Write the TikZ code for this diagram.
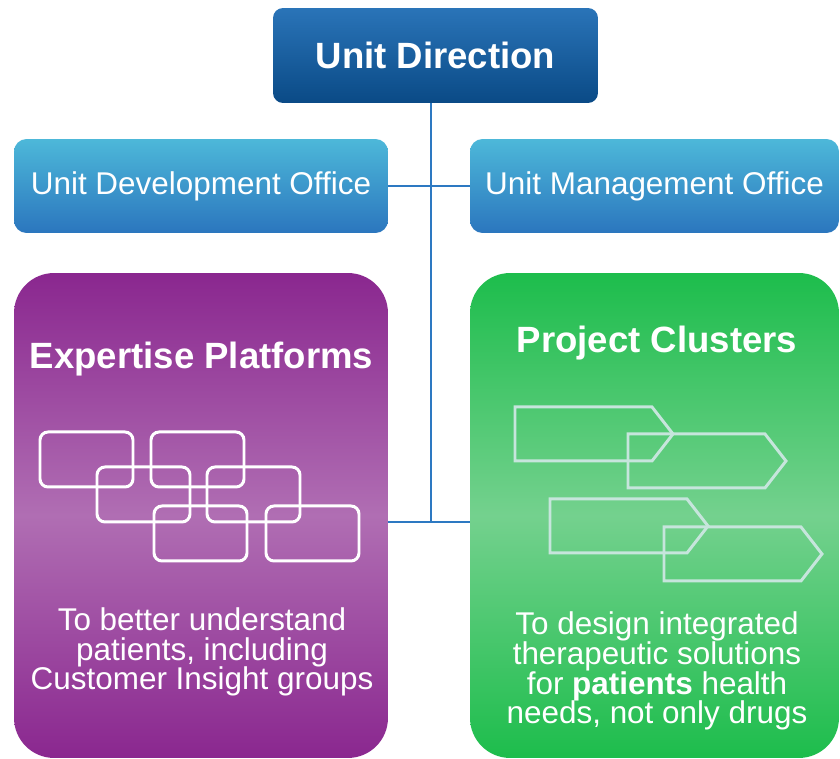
\documentclass[tikz,border=0pt]{standalone}
\usepackage{fontspec}
\setmainfont{Liberation Sans}
\usetikzlibrary{positioning, calc}

\definecolor{dirtop}{HTML}{2A74B8}
\definecolor{dirbot}{HTML}{0A4A86}
\definecolor{offtop}{HTML}{4DB8D9}
\definecolor{offbot}{HTML}{2B76BE}
\definecolor{purpedge}{HTML}{8A278F}
\definecolor{purpmid}{HTML}{B06EB3}
\definecolor{greenedge}{HTML}{1DBD4C}
\definecolor{greenmid}{HTML}{74D18E}
\definecolor{linkblue}{HTML}{2D79C2}
\definecolor{tagline}{HTML}{C6E5DC}

\begin{document}
\begin{tikzpicture}[x=0.02cm, y=-0.02cm,
    every node/.style={text=white, font=\fontsize{17.9}{17}\selectfont},
    office/.style={rounded corners=0.25cm, top color=offtop, bottom color=offbot,
        minimum height=1.88cm, inner sep=0pt},
    panel/.style={rounded corners=0.8cm, minimum height=9.7cm, inner sep=0pt},
    paneltitle/.style={font=\fontsize{20.8}{24}\selectfont\bfseries},
    tile/.style={draw=white, line width=1.7pt, rounded corners=0.16cm},
    tag/.style={draw=tagline, line width=1.7pt},
    link/.style={draw=linkblue, line width=1.1pt}]
    \useasboundingbox (0,0) rectangle (840,759);

    % Top box
    \node[rounded corners=0.2cm, top color=dirtop, bottom color=dirbot,
        minimum width=6.5cm, minimum height=1.9cm, inner sep=0pt,
        font=\fontsize{20.8}{24}\selectfont\bfseries] (dir) at (435.5,55.5) {Unit Direction};

    % Offices
    \node[office, minimum width=7.48cm] (dev) at (201,186) {\raisebox{-2pt}{Unit Development Office}};
    \node[office, minimum width=7.38cm] (mgmt) at (654.5,186) {\raisebox{-2pt}{Unit Management Office}};

    % Expertise platforms
    \node[panel, minimum width=7.48cm, top color=purpedge, bottom color=purpedge,
        middle color=purpmid] (plat) at (201,515.5) {};
    \node[paneltitle, anchor=base] (plattitle) at (201.5,369) {Expertise Platforms};
    \foreach \x/\y in {40/432, 151/432, 97/467, 207/467, 154/506, 266/506}
        \draw[tile] (\x,\y) rectangle ++(93,55);
    \node[align=center] (platnote) at (202,652) {To better understand\\patients, including\\Customer Insight groups};

    % Project clusters
    \node[panel, minimum width=7.38cm, top color=greenedge, bottom color=greenedge,
        middle color=greenmid] (clus) at (654.5,515.5) {};
    \node[paneltitle, anchor=base] (clustitle) at (657,353) {Project Clusters};
    \foreach \x/\y in {515/407, 628/434, 550/499, 664/527}
        \draw[tag] (\x,\y) -- ++(137,0) -- ++(21,27) -- ++(-21,27) -- ++(-137,0) -- cycle;
    \node[align=center] (clusnote) at (657,671) {To design integrated\\therapeutic solutions\\for \textbf{patients} health\\needs, not only drugs};

    % Connectors
    \coordinate (hub) at (431,522);
    \draw[link] (hub |- dir.south) -- (hub);
    \draw[link] (dev.east) -- (mgmt.west);
    \draw[link] (plat.east |- hub) -- (clus.west |- hub);
\end{tikzpicture}
\end{document}
